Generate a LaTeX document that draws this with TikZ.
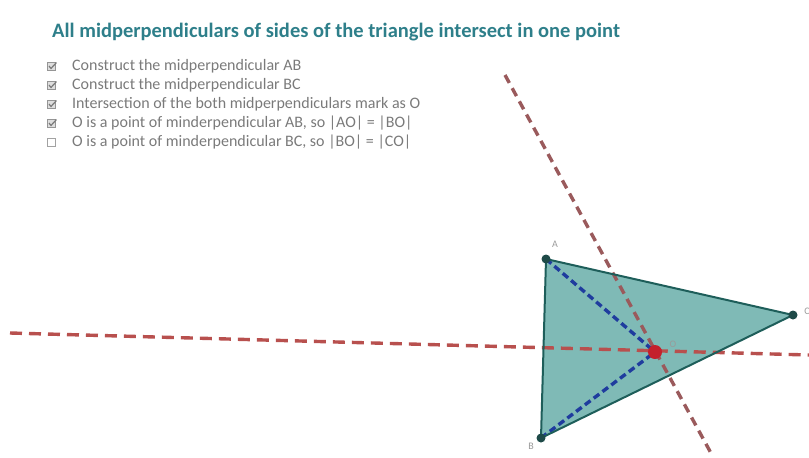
\documentclass[tikz,border=0pt]{standalone}
\usepackage{fontspec}
\setmainfont{Carlito}
\definecolor{titlecol}{HTML}{2E7F8A}
\definecolor{itemcol}{HTML}{7A7A7A}
\definecolor{trifill}{HTML}{7FBAB6}
\definecolor{triedge}{HTML}{1E5E5A}
\definecolor{vertcol}{HTML}{1E4A48}
\definecolor{bisred}{HTML}{B8504E}
\definecolor{bisdark}{HTML}{9A5A5C}
\definecolor{segblue}{HTML}{1F3C9E}
\definecolor{ocol}{HTML}{C4202C}
\definecolor{lblcol}{HTML}{9A9A9A}
\tikzset{
  titletext/.style={font=\fontsize{20.5}{23}\selectfont\bfseries, text=titlecol, anchor=west, inner sep=0},
  itemtext/.style={font=\fontsize{16}{18}\selectfont, text=itemcol, anchor=west, inner sep=0},
  cbox/.style={draw=itemcol!80, fill=itemcol!25, line width=0.9pt, minimum size=8pt, inner sep=0},
  vert/.style={circle, fill=vertcol, minimum size=9pt, inner sep=0},
  bisector/.style={bisred, line width=3.4pt, dash pattern=on 12pt off 7pt},
  bisectorb/.style={bisdark, line width=3.4pt, dash pattern=on 9pt off 6pt},
  segment/.style={segblue, line width=3.4pt, dash pattern=on 7pt off 4pt},
  lbl/.style={font=\fontsize{10}{11}\selectfont, text=lblcol, inner sep=0}
}
\begin{document}
\begin{tikzpicture}[x=1pt,y=-1pt]
\useasboundingbox (0,0) rectangle (809,458);
% title
\node[titletext] (title) at (52,32) {All midperpendiculars of sides of the triangle intersect in one point};
% checklist
\foreach \i/\yy/\t in {1/66/{Construct the midperpendicular AB},
                      2/85/{Construct the midperpendicular BC},
                      3/104/{Intersection of the both midperpendiculars mark as O},
                      4/123/{O is a point of minderpendicular AB, so |AO| = |BO|},
                      5/142/{O is a point of minderpendicular BC, so |BO| = |CO|}}{
  \node[itemtext] (item\i) at (72,\yy) {\t};
}
\foreach \i/\yy in {1/66,2/85,3/104,4/123}{
  \node[cbox] (cb\i) at (51,\yy) {};
  \draw[itemcol, line width=1.2pt] ([xshift=-2pt]cb\i.center) -- ([yshift=2pt]cb\i.south) -- ([xshift=1pt,yshift=-1pt]cb\i.north east);
}
\node[draw=itemcol!70, line width=0.8pt, minimum size=8pt, inner sep=0] (cb5) at (51,142) {};
% points
\coordinate (A) at (546,259);
\coordinate (B) at (541,438);
\coordinate (C) at (793,315);
\coordinate (O) at (655,352);
\coordinate (h1) at (10,333);
\coordinate (h2) at (809,355);
\coordinate (s1) at (505,75);
\coordinate (s2) at (712,455);
% triangle fill
\fill[trifill] (A) -- (B) -- (C) -- cycle;
% bisectors
\draw[bisector] (h1) -- (h2);
\draw[bisectorb] (s1) -- (s2);
% segments AO, BO
\draw[segment] (A) -- (O);
\draw[segment] (B) -- (O);
% triangle edges
\draw[triedge, line width=2pt, line join=round] (A) -- (B) -- (C) -- cycle;
% vertices
\node[vert] (vA) at (A) {};
\node[vert] (vB) at (B) {};
\node[vert] (vC) at (C) {};
\node[circle, fill=ocol, minimum size=14pt, inner sep=0] (vO) at (O) {};
% labels
\node[lbl] (lA) at (555,244) {A};
\node[lbl] (lB) at (531,446) {B};
\node[lbl] (lC) at (807,311) {C};
\node[lbl] (lO) at (673,344) {O};
\end{tikzpicture}
\end{document}
